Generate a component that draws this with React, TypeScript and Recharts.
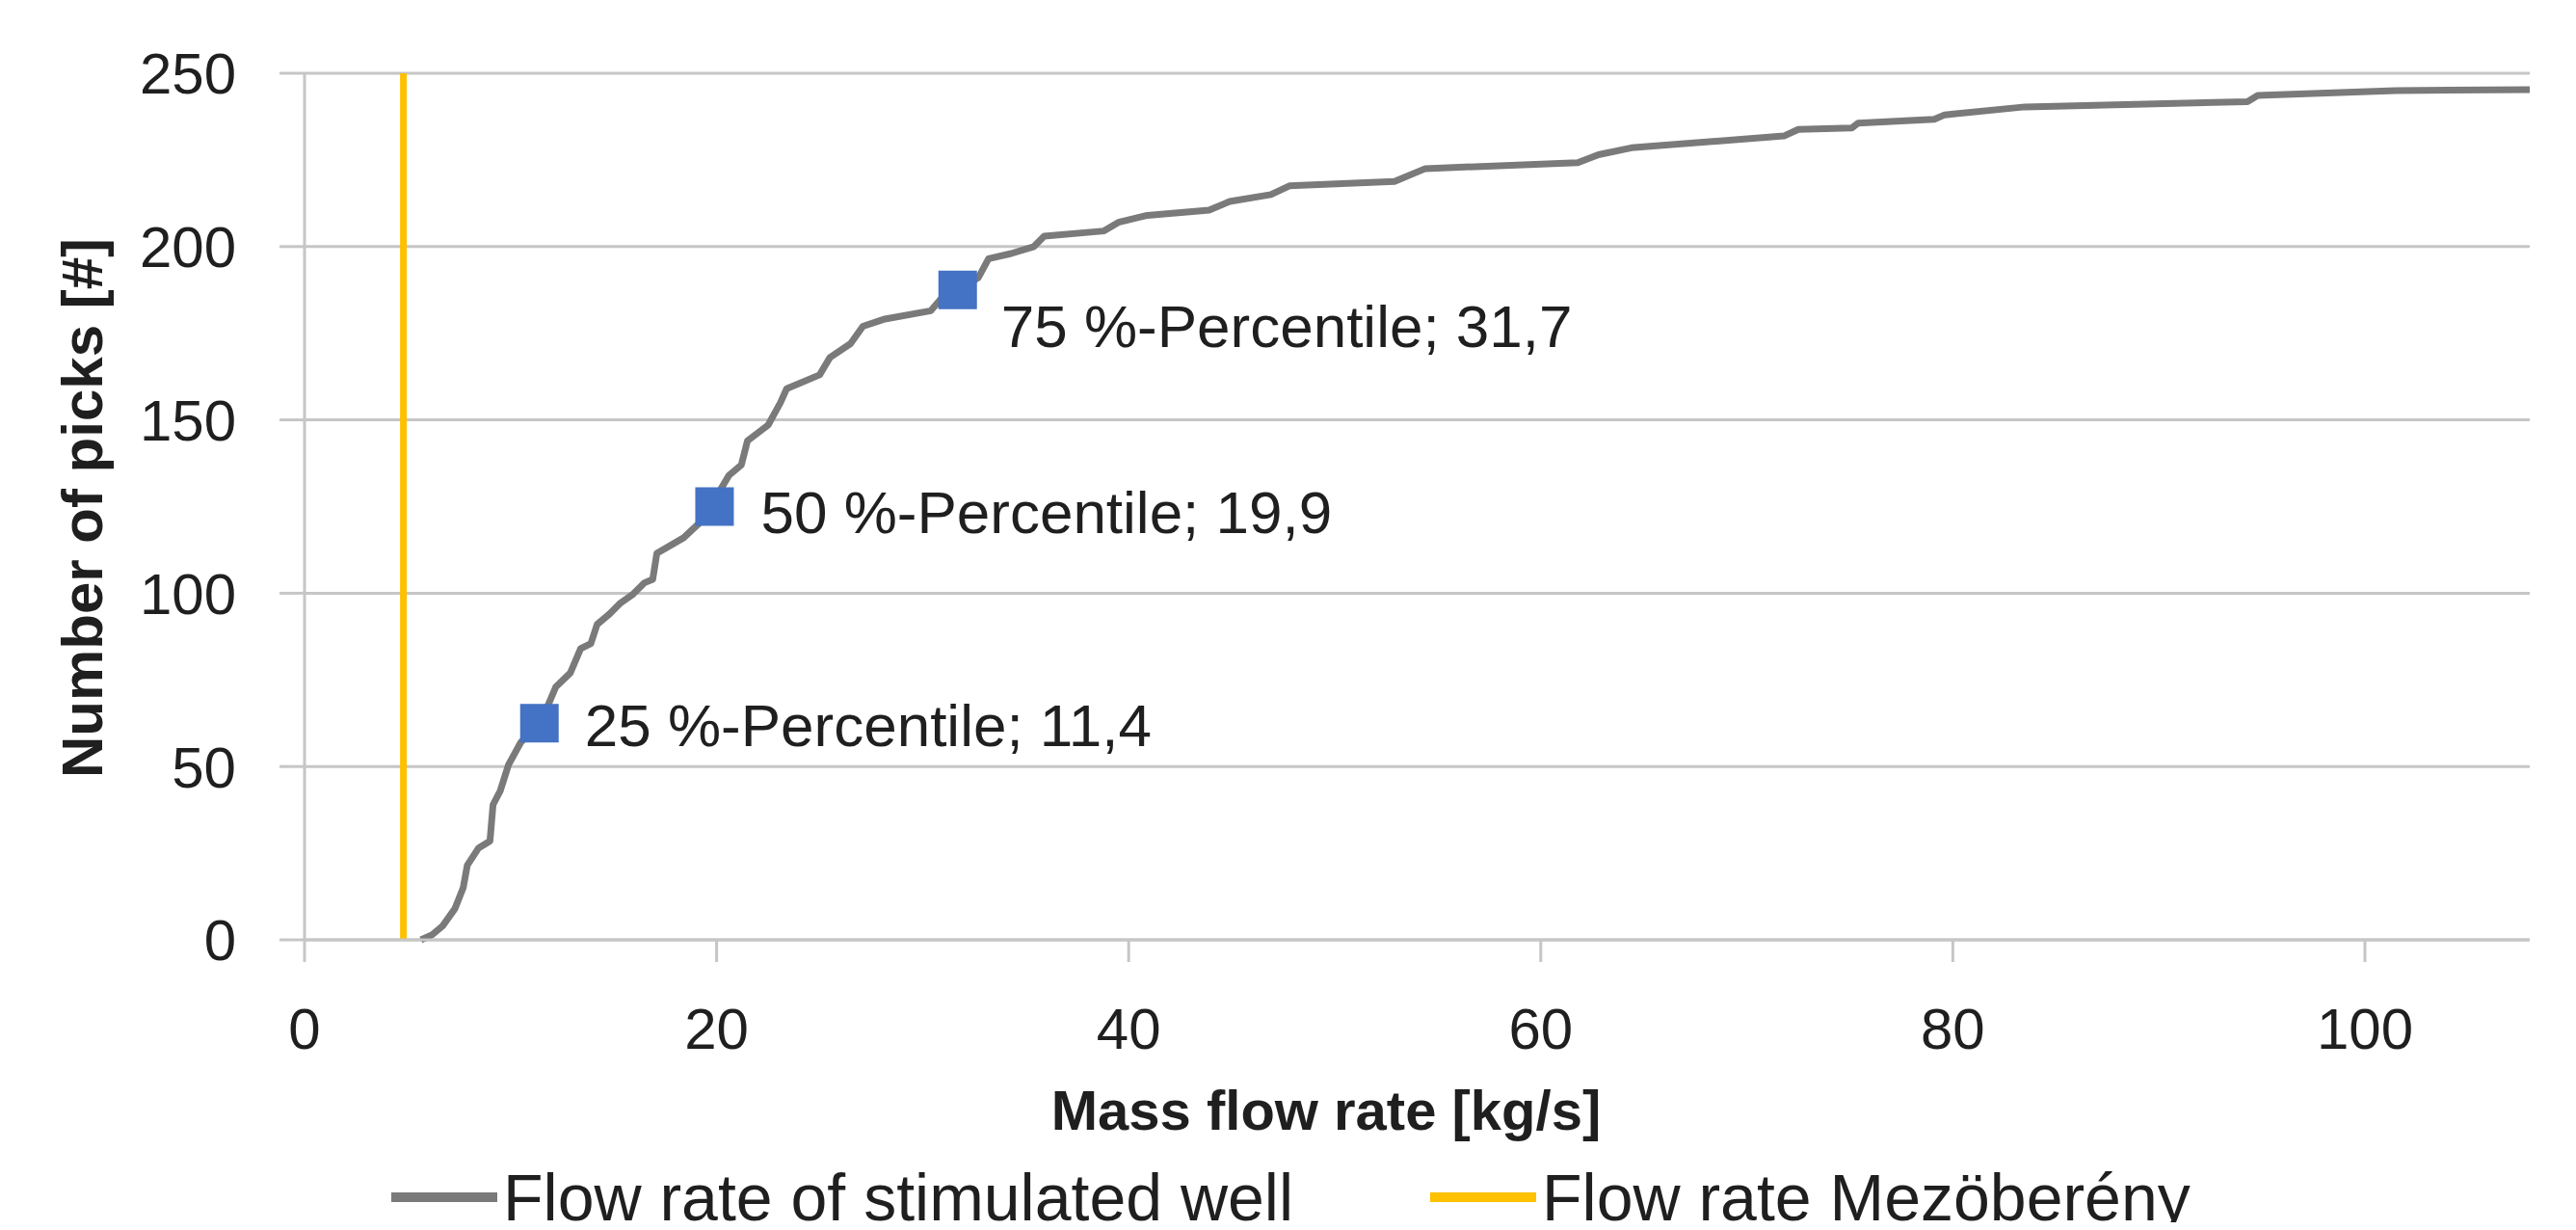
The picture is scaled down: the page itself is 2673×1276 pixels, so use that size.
import { ComposedChart, Line, Scatter, XAxis, YAxis, CartesianGrid, Label } from 'recharts'

// cumulative count of picks over mass flow rate (stimulated well)
const FLOW_RATE = [
  5.65, 6.2, 6.7, 7.3, 7.7, 7.9, 8.45, 9.0, 9.15, 9.5, 9.9, 10.5, 11.1, 11.7, 12.2, 12.9, 13.4, 13.9,
  14.2, 14.8, 15.3, 15.9, 16.5, 16.9, 17.1, 18.4, 19.3, 19.8, 20.6, 21.2, 21.5, 22.5, 23.1, 23.4, 25.0,
  25.5, 26.5, 27.1, 28.1, 30.4, 30.9, 31.9, 32.7, 33.2, 34.3, 35.4, 35.9, 38.8, 39.5, 40.9, 43.9, 44.9,
  46.9, 47.8, 52.9, 54.4, 61.8, 62.8, 64.4, 71.8, 72.5, 75.1, 75.4, 79.1, 79.6, 83.5, 94.3, 94.8, 101.5, 108,
]
const PICKS = [
  0, 1.5, 4, 9, 15, 21.5, 26.5, 28.5, 39, 43, 50.5, 57, 60.5, 66, 73, 77, 84, 85.5,
  91, 94, 97, 99.5, 103, 104, 111.5, 116, 121, 126, 134, 137, 144, 148.5, 155, 159, 163,
  168, 172, 177, 179, 181.5, 185, 188, 191, 196.5, 198, 200, 203, 204.5, 207, 209, 210.5, 213,
  215, 217.5, 218.8, 222.5, 224.2, 226.5, 228.5, 231.9, 233.8, 234.2, 235.6, 236.7, 238, 240.3, 241.8, 243.6, 245, 245.3,
]

const PERCENTILE_LEVELS = [25, 50, 75]
const PERCENTILE_FLOW = [11.4, 19.9, 31.7]
const PERCENTILE_PICKS = [62.5, 125, 187.5]

const MEZOBERENY_FLOW = 4.8
const MEZOBERENY_PICKS = [0, 250]

const X_TICKS = [0, 20, 40, 60, 80, 100]
const Y_TICKS = [0, 50, 100, 150, 200, 250]
const X_MAX = 108

const FONT = '"Liberation Sans", Arial, sans-serif'
const TEXT = '#1f1f1f'
const GRID = '#C6C6C6'
const WELL_COLOR = '#7A7A7A'
const MEZO_COLOR = '#FFC000'
const MARKER_COLOR = '#4472C4'
// label offsets from marker centre (excel "right" / "below right")
const LABEL_OFFSET = [
  [47, 2],
  [48, 6],
  [45, 38],
]

const W = 2657
const H = 1260

function PercentileMarker(props: any) {
  const { cx, cy, index, payload } = props
  const [dx, dy] = LABEL_OFFSET[index] ?? [47, 0]
  const label = `${payload.p} %-Percentile; ${payload.x.toFixed(1).replace('.', ',')}`
  return (
    <g>
      <rect x={cx - 20} y={cy - 20} width={40} height={40} fill={MARKER_COLOR} />
      <text
        x={cx + dx}
        y={cy + dy}
        fontSize={62}
        fontFamily={FONT}
        fill={TEXT}
        dominantBaseline="central"
      >
        {label}
      </text>
    </g>
  )
}

export default function App() {
  const wellData = FLOW_RATE.map((x, i) => ({ x, y: PICKS[i] }))
  const mezoData = MEZOBERENY_PICKS.map((y) => ({ x: MEZOBERENY_FLOW, y }))
  const pctData = PERCENTILE_LEVELS.map((p, i) => ({ p, x: PERCENTILE_FLOW[i], y: PERCENTILE_PICKS[i] }))

  return (
    <div style={{ position: 'relative', width: W, height: H, fontFamily: FONT }}>
      <ComposedChart width={W} height={H} margin={{ top: 68, right: 40, left: 0, bottom: 193 }}>
        <CartesianGrid vertical={false} stroke={GRID} strokeWidth={3} />
        <XAxis
          type="number"
          dataKey="x"
          domain={[0, X_MAX]}
          ticks={X_TICKS}
          allowDataOverflow
          height={100}
          tickSize={23}
          tickMargin={47}
          axisLine={{ stroke: GRID, strokeWidth: 3 }}
          tickLine={{ stroke: GRID, strokeWidth: 3 }}
          tick={{ fill: TEXT, fontSize: 60, fontFamily: FONT }}
        >
          <Label
            content={() => (
              <text
                x={1368}
                y={1143}
                textAnchor="middle"
                dominantBaseline="central"
                fontSize={58}
                fontWeight="bold"
                fontFamily={FONT}
                fill={TEXT}
              >
                Mass flow rate [kg/s]
              </text>
            )}
          />
        </XAxis>
        <YAxis
          type="number"
          dataKey="y"
          domain={[0, 250]}
          ticks={Y_TICKS}
          width={308}
          tickSize={26}
          tickMargin={45}
          axisLine={{ stroke: GRID, strokeWidth: 3 }}
          tickLine={{ stroke: GRID, strokeWidth: 3 }}
          tick={{ fill: TEXT, fontSize: 60, fontFamily: FONT }}
        >
          <Label
            content={() => (
              <text
                x={77}
                y={519}
                transform="rotate(-90, 77, 519)"
                textAnchor="middle"
                dominantBaseline="central"
                fontSize={60}
                fontWeight="bold"
                fontFamily={FONT}
                fill={TEXT}
              >
                Number of picks [#]
              </text>
            )}
          />
        </YAxis>
        <Scatter data={pctData} dataKey="y" shape={PercentileMarker} isAnimationActive={false} />
        <Line
          data={mezoData}
          dataKey="y"
          type="linear"
          stroke={MEZO_COLOR}
          strokeWidth={7}
          dot={false}
          activeDot={false}
          isAnimationActive={false}
        />
        <Line
          data={wellData}
          dataKey="y"
          type="linear"
          stroke={WELL_COLOR}
          strokeWidth={7}
          strokeLinejoin="round"
          dot={false}
          activeDot={false}
          isAnimationActive={false}
        />
      </ComposedChart>

      {[
        { left: 398, color: WELL_COLOR, text: 'Flow rate of stimulated well' },
        { left: 1476, color: MEZO_COLOR, text: 'Flow rate Mezöberény' },
      ].map((item) => (
        <div
          key={item.text}
          style={{
            position: 'absolute',
            left: item.left,
            top: 1200,
            height: 68,
            display: 'flex',
            alignItems: 'center',
            whiteSpace: 'nowrap',
          }}
        >
          <div style={{ width: 110, height: 10, background: item.color, marginRight: 6 }} />
          <span style={{ fontSize: 68, lineHeight: '68px', color: TEXT }}>{item.text}</span>
        </div>
      ))}
    </div>
  )
}
